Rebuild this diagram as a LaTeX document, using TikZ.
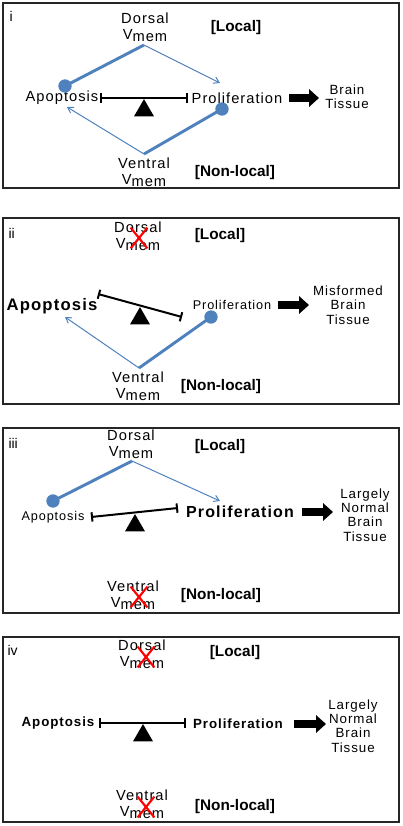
\documentclass[tikz,border=0pt]{standalone}
\usepackage{fontspec}
\setmainfont{Liberation Sans}
\newfontfamily\spaced[LetterSpace=7]{Liberation Sans}
\usetikzlibrary{positioning, arrows.meta, shapes.geometric, shapes.misc}
\definecolor{vblue}{RGB}{79,129,189}
\newcommand{\vmem}{V\raisebox{-1.7pt}{mem}}

\begin{document}
\begin{tikzpicture}[x=0.75pt, y=-0.75pt, thick,
  lbl/.style={font=\spaced\fontsize{11}{12}\selectfont, align=center, inner sep=0pt},
  small/.style={font=\spaced\fontsize{9.5}{11}\selectfont, inner sep=0pt},
  big/.style={font=\spaced\bfseries\fontsize{12.5}{14}\selectfont, inner sep=0pt},
  mid/.style={font=\spaced\bfseries\fontsize{10}{12}\selectfont, inner sep=0pt},
  tag/.style={font=\bfseries\fontsize{11.5}{13}\selectfont, inner sep=0pt},
  tissue/.style={font=\spaced\fontsize{10}{10.7}\selectfont, align=center, inner sep=0pt},
  num/.style={font=\fontsize{10.5}{12}\selectfont, inner sep=0pt, anchor=west},
  panel/.style={draw=black!85, line width=1.2pt},
  blk/.style={draw=vblue, line width=2.2pt},
  act/.style={draw=vblue, line width=0.75pt, -{Straight Barb[length=4pt, width=5pt]}},
  dot/.style={circle, fill=vblue, inner sep=0pt, minimum size=10pt},
  balance/.style={line width=1.5pt, {Bar[width=7pt]}-{Bar[width=7pt]}},
  fulcrum/.style={regular polygon, regular polygon sides=3, fill=black, inner sep=0pt, minimum size=17.3pt, anchor=corner 1},
  lost/.style={cross out, draw=red, line width=1.6pt, minimum width=11pt, minimum height=14pt, inner sep=0pt},
  result/.style={line width=6pt, -{Triangle[length=7.5pt, width=13pt]}}
]
\useasboundingbox (0,0) rectangle (403,826);

%Painel i
\draw[panel] (3,3) rectangle (399,188);
\node[num] (n1) at (9,16) {i};
\node[lbl] (dor1) at (145,27) {Dorsal\\\vmem};
\node[tag] (loc1) at (236,28) {[Local]};
\node[lbl] (ap1) at (62,98) {Apoptosis};
\node[lbl] (pr1) at (237,98) {Proliferation};
\node[lbl] (ven1) at (144,172) {Ventral\\\vmem};
\node[tag] (nl1) at (235,173) {[Non-local]};
\node[tissue] (bt1) at (347,97) {Brain\\Tissue};
\coordinate (dv1) at (144,45);
\coordinate (vv1) at (144,154);
\coordinate (pe1) at (220,83);
\coordinate (ae1) at (67,107);
\coordinate (bl1) at (100,98);
\coordinate (br1) at (188,98);
\node[dot] (ac1) at (65,86) {};
\node[dot] (pc1) at (222,109) {};
\draw[blk] (dv1) -- (ac1.center);
\draw[blk] (vv1) -- (pc1.center);
\draw[act] (dv1) -- (pe1);
\draw[act] (vv1) -- (ae1);
\draw[balance] (bl1) -- (br1);
\node[fulcrum] (f1) at (144,98) {};
\draw[result] (289,98) -- (319,98);

%Painel ii
\draw[panel] (3,218) rectangle (399,404);
\node[num] (n2) at (8,233) {ii};
\node[lbl] (dor2) at (138,236) {Dorsal\\\vmem};
\node[lost] (x2) at (139,238) {};
\node[tag] (loc2) at (220,236) {[Local]};
\node[big] (ap2) at (52,306) {Apoptosis};
\node[small] (pr2) at (232,305) {Proliferation};
\node[lbl] (ven2) at (138,386) {Ventral\\\vmem};
\node[tag] (nl2) at (221,387) {[Non-local]};
\node[tissue] (bt2) at (348,305) {Misformed\\Brain\\Tissue};
\coordinate (vv2) at (139,368);
\coordinate (ae2) at (65,317);
\coordinate (bl2) at (98,294);
\coordinate (br2) at (182,317);
\node[dot] (pc2) at (211,317) {};
\draw[blk] (vv2) -- (pc2.center);
\draw[act] (vv2) -- (ae2);
\draw[balance] (bl2) -- (br2);
\node[fulcrum] (f2) at (140,306) {};
\draw[result] (278,305) -- (309,305);

%Painel iii
\draw[panel] (3,428) rectangle (399,613);
\node[num] (n3) at (8,443) {iii};
\node[lbl] (dor3) at (131,444) {Dorsal\\\vmem};
\node[tag] (loc3) at (220,447) {[Local]};
\node[small] (ap3) at (53,517) {Apoptosis};
\node[big, font=\spaced\bfseries\fontsize{12}{14}\selectfont] (pr3) at (240,512) {Proliferation};
\node[lbl] (ven3) at (133,595) {Ventral\\\vmem};
\node[lost] (x3) at (139,597) {};
\node[tag] (nl3) at (221,596) {[Non-local]};
\node[tissue] (bt3) at (365,515) {Largely\\Normal\\Brain\\Tissue};
\coordinate (dv3) at (132,461);
\coordinate (pe3) at (220,501);
\coordinate (bl3) at (91,517);
\coordinate (br3) at (178,508);
\node[dot] (ac3) at (53,501) {};
\draw[blk] (dv3) -- (ac3.center);
\draw[act] (dv3) -- (pe3);
\draw[balance] (bl3) -- (br3);
\node[fulcrum] (f3) at (135,513) {};
\draw[result] (302,512) -- (333,512);

%Painel iv
\draw[panel] (3,637) rectangle (399,822);
\node[num] (n4) at (7,650) {iv};
\node[lbl] (dor4) at (142,654) {Dorsal\\\vmem};
\node[lost] (x4) at (146,657) {};
\node[tag] (loc4) at (235,653) {[Local]};
\node[mid] (ap4) at (58,723) {Apoptosis};
\node[mid] (pr4) at (238,724) {Proliferation};
\node[lbl] (ven4) at (142,804) {Ventral\\\vmem};
\node[lost] (x5) at (146,807) {};
\node[tag] (nl4) at (235,807) {[Non-local]};
\node[tissue] (bt4) at (353,726) {Largely\\Normal\\Brain\\Tissue};
\coordinate (bl4) at (99,723);
\coordinate (br4) at (186,723);
\draw[balance] (bl4) -- (br4);
\node[fulcrum] (f4) at (143,723) {};
\draw[result] (294,724) -- (326,724);
\end{tikzpicture}
\end{document}
